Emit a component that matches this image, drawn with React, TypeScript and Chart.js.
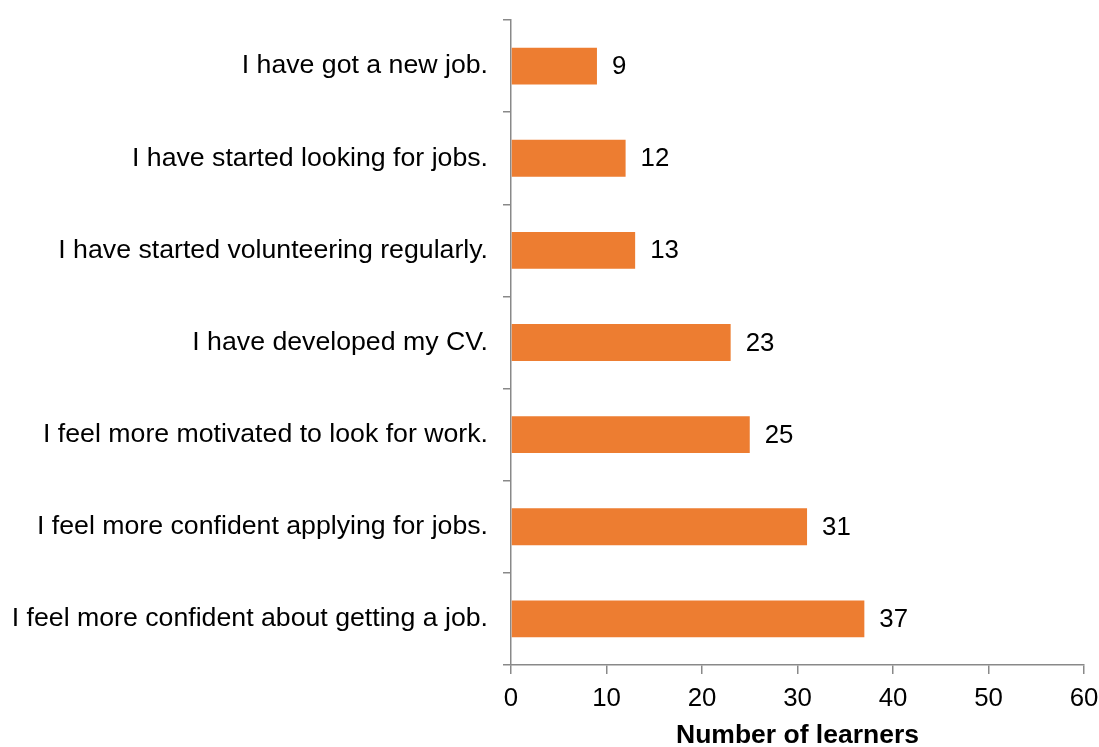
import React, { useEffect, useRef } from "react";
import { Chart, registerables } from "chart.js";

Chart.register(...registerables);

const categories: string[] = [
  "I have got a new job.",
  "I have started looking for jobs.",
  "I have started volunteering regularly.",
  "I have developed my CV.",
  "I feel more motivated to look for work.",
  "I feel more confident applying for jobs.",
  "I feel more confident about getting a job.",
];

const learners: number[] = [9, 12, 13, 23, 25, 31, 37];

const xMin = 0;
const xMax = 60;
const xStep = 10;
const xTitle = "Number of learners";

const FONT = "'Liberation Sans', Arial, Helvetica, sans-serif";
const AXIS_GREY = "#898989";
const BAR_COLOR = "#ED7D31";

const valueLabels = {
  id: "valueLabels",
  afterDatasetsDraw(chart: any) {
    const ctx = chart.ctx;
    const meta = chart.getDatasetMeta(0);
    const data = chart.data.datasets[0].data as number[];
    ctx.save();
    ctx.font = `25.8px ${FONT}`;
    ctx.fillStyle = "#000000";
    ctx.textAlign = "left";
    ctx.textBaseline = "middle";
    meta.data.forEach((bar: any, i: number) => {
      ctx.fillText(String(data[i]), bar.x + 15, bar.y + 1);
    });
    ctx.restore();
  },
};

export default function App() {
  const canvasRef = useRef<HTMLCanvasElement | null>(null);

  useEffect(() => {
    if (!canvasRef.current) return;
    const chart = new Chart(canvasRef.current, {
      type: "bar",
      data: {
        labels: categories,
        datasets: [
          {
            data: learners,
            backgroundColor: BAR_COLOR,
            borderWidth: 0,
            barPercentage: 0.4,
            categoryPercentage: 1,
          },
        ],
      },
      options: {
        indexAxis: "y",
        animation: false,
        responsive: false,
        maintainAspectRatio: false,
        layout: { padding: { top: 20, right: 15, bottom: 0, left: 0 } },
        plugins: {
          legend: { display: false },
          tooltip: { enabled: false },
        },
        scales: {
          x: {
            min: xMin,
            max: xMax,
            ticks: {
              stepSize: xStep,
              color: "#000000",
              font: { family: FONT, size: 25.8 },
              padding: 9,
              maxRotation: 0,
            },
            grid: {
              drawOnChartArea: false,
              drawTicks: true,
              tickLength: 9,
              color: AXIS_GREY,
              lineWidth: 1.5,
            },
            border: { display: true, color: AXIS_GREY, width: 1.5 },
            title: {
              display: true,
              text: xTitle,
              color: "#000000",
              font: { family: FONT, size: 26.5, weight: "bold" },
              padding: { top: 0, bottom: -5 },
            },
            afterFit(scale: any) {
              scale.height = 82;
              scale.paddingLeft = 0;
              scale.paddingRight = 0;
              scale.paddingTop = 0;
              scale.paddingBottom = 0;
            },
          },
          y: {
            ticks: {
              color: "#000000",
              font: { family: FONT, size: 26.7 },
              padding: 15,
            },
            grid: {
              offset: true,
              drawOnChartArea: false,
              drawTicks: true,
              tickLength: 8,
              color: AXIS_GREY,
              lineWidth: 1.5,
            },
            border: { display: true, color: AXIS_GREY, width: 1.5 },
            afterFit(scale: any) {
              scale.width = 511;
              scale.paddingLeft = 0;
              scale.paddingRight = 0;
              scale.paddingTop = 0;
              scale.paddingBottom = 0;
            },
          },
        },
      },
      plugins: [valueLabels],
    } as any);
    return () => chart.destroy();
  }, []);

  return (
    <div
      style={{
        position: "absolute",
        left: 0,
        top: 0,
        width: 1099,
        height: 747,
        background: "#ffffff",
      }}
    >
      <canvas ref={canvasRef} width={1099} height={747} style={{ display: "block" }} />
    </div>
  );
}
